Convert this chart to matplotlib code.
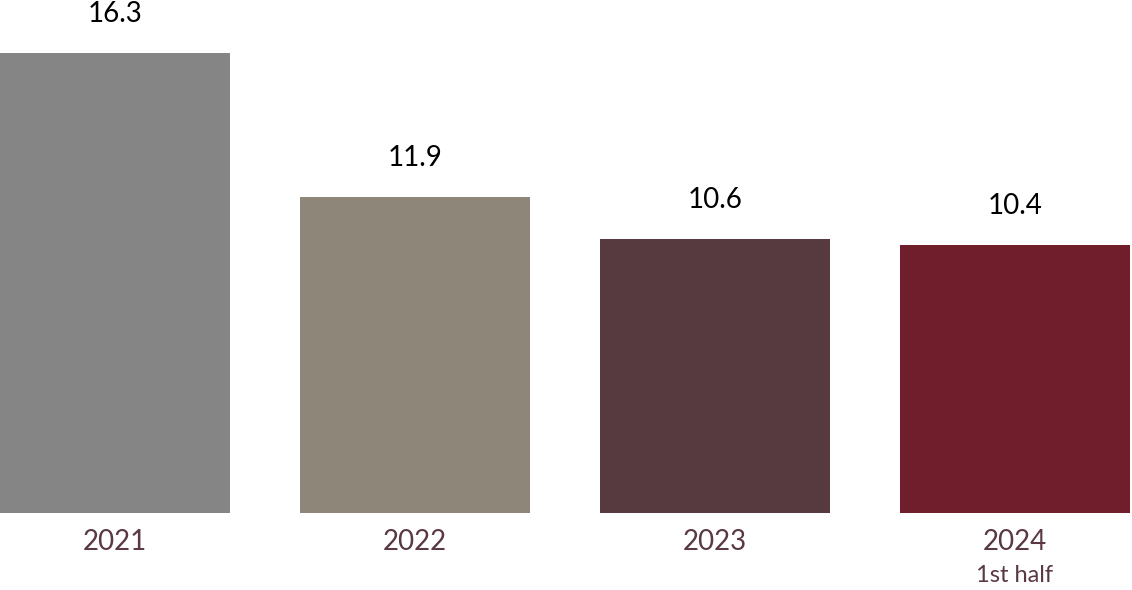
import matplotlib.pyplot as plt

years = ['2021', '2022', '2023', '2024']
sublabels = ['', '', '', '1st half']
values = [16.3, 11.9, 10.6, 10.4]
colors = ['#858585', '#8f867a', '#573a40', '#701e2c']

plt.rcParams['font.family'] = ['Lato', 'DejaVu Sans']

fig = plt.figure(figsize=(11.32, 5.9), dpi=100)
ax = fig.add_axes([0, 77 / 590, 1, 513 / 590])

x = list(range(len(values)))
ax.bar(x, values, width=0.767, color=colors)

ax.set_xlim(-115 / 300, 1017 / 300)
ax.set_ylim(2.19, 17.93)

for xi, v in zip(x, values):
    ax.annotate(f'{v:.1f}', (xi, v), xytext=(0, 39), textcoords='offset pixels',
                ha='center', va='center', fontsize=20, color='black')

for xi, yr, sub in zip(x, years, sublabels):
    ax.annotate(yr, (xi, 2.19), xytext=(0, -29), textcoords='offset pixels',
                ha='center', va='center', fontsize=20, color='#5a3943',
                annotation_clip=False)
    if sub:
        ax.annotate(sub, (xi, 2.19), xytext=(0, -62), textcoords='offset pixels',
                    ha='center', va='center', fontsize=17, color='#5a3943',
                    annotation_clip=False)

ax.axis('off')
fig.savefig('out.png', dpi=100)
